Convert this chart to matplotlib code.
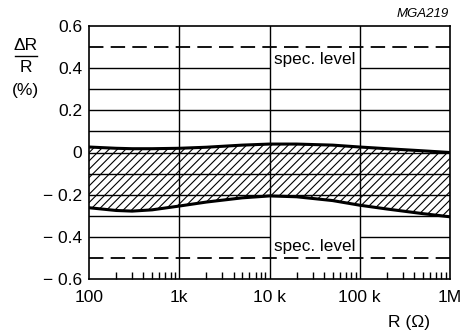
import numpy as np
import matplotlib.pyplot as plt
from matplotlib.ticker import FixedLocator, NullFormatter

plt.rcParams['font.family'] = ['Liberation Sans', 'DejaVu Sans']
plt.rcParams['hatch.linewidth'] = 0.8

# band limits
r_ohm = [100, 200, 300, 500, 1e3, 2e3, 5e3, 1e4, 2e4, 5e4, 1e5, 2e5, 5e5, 1e6]
upper = [0.026, 0.02, 0.018, 0.018, 0.02, 0.025, 0.035, 0.04, 0.04, 0.035, 0.026, 0.018, 0.008, 0.0]
lower = [-0.262, -0.275, -0.278, -0.272, -0.254, -0.235, -0.215, -0.206, -0.21, -0.228, -0.25, -0.268, -0.29, -0.305]

spec_level = 0.5
y_ticks = [0.6, 0.4, 0.2, 0, -0.2, -0.4, -0.6]
y_tick_labels = ['0.6', '0.4', '0.2', '0', '\u2212 0.2', '\u2212 0.4', '\u2212 0.6']
x_ticks = [100, 1e3, 1e4, 1e5, 1e6]
x_tick_labels = ['100', '1k', '10 k', '100 k', '1M']

fig = plt.figure(figsize=(4.64, 3.32), dpi=100)
ax = fig.add_axes([89 / 464, 1 - 279 / 332, (450 - 89) / 464, (279 - 26) / 332])

ax.set_xscale('log')
ax.set_xlim(100, 1e6)
ax.set_ylim(-0.6, 0.6)

# grid, the 0.4 lines leave room for the "spec. level" labels
for y in np.round(np.arange(-0.3, 0.35, 0.1), 2):
    ax.axhline(y, color='black', lw=1.0, zorder=2)
for y in (0.4, -0.4):
    ax.hlines(y, 100, 1e4, color='black', lw=1.0, zorder=2)
    ax.hlines(y, 1e5, 1e6, color='black', lw=1.0, zorder=2)
for x in x_ticks[1:-1]:
    ax.axvline(x, color='black', lw=1.0, zorder=2)
for y in (spec_level, -spec_level):
    ax.axhline(y, color='black', lw=1.3, dashes=(8, 4), zorder=2)

ax.fill_between(r_ohm, lower, upper, facecolor='white', edgecolor='black',
                hatch='////', lw=0, zorder=1)
ax.plot(r_ohm, upper, color='black', lw=2.2, zorder=3)
ax.plot(r_ohm, lower, color='black', lw=2.2, zorder=3)

ax.text(3.2e4, 0.44, 'spec. level', ha='center', va='center', fontsize=12.3, zorder=4)
ax.text(3.2e4, -0.445, 'spec. level', ha='center', va='center', fontsize=12.3, zorder=4)

ax.set_yticks(y_ticks)
ax.set_yticklabels(y_tick_labels, fontsize=12.5)
ax.set_xticks(x_ticks)
ax.set_xticklabels(x_tick_labels, fontsize=12.5)
ax.tick_params(axis='y', which='major', length=0, pad=5)
ax.tick_params(axis='x', which='major', length=0, pad=8)
ax.xaxis.set_minor_locator(FixedLocator(
    [m * 10 ** d for d in range(2, 6) for m in range(2, 10)]))
ax.xaxis.set_minor_formatter(NullFormatter())
ax.tick_params(axis='x', which='minor', direction='in', length=5, width=1)

for s in ax.spines.values():
    s.set_linewidth(1.2)

fig.text(26 / 464, 1 - 46 / 332, '\u0394R', ha='center', va='center', fontsize=12.5)
fig.add_artist(plt.Line2D([15 / 464, 37 / 464], [1 - 56 / 332, 1 - 56 / 332],
                          color='black', lw=1))
fig.text(26 / 464, 1 - 68 / 332, 'R', ha='center', va='center', fontsize=12.5)
fig.text(25 / 464, 1 - 90 / 332, '(%)', ha='center', va='center', fontsize=12.5)
fig.text(449 / 464, 1 - 14 / 332, 'MGA219', ha='right', va='center',
         fontsize=9.5, style='italic')
fig.text(409 / 464, 1 - 322 / 332, 'R (\u03a9)', ha='center', va='center', fontsize=12.5)

fig.savefig('out.png', dpi=100)
